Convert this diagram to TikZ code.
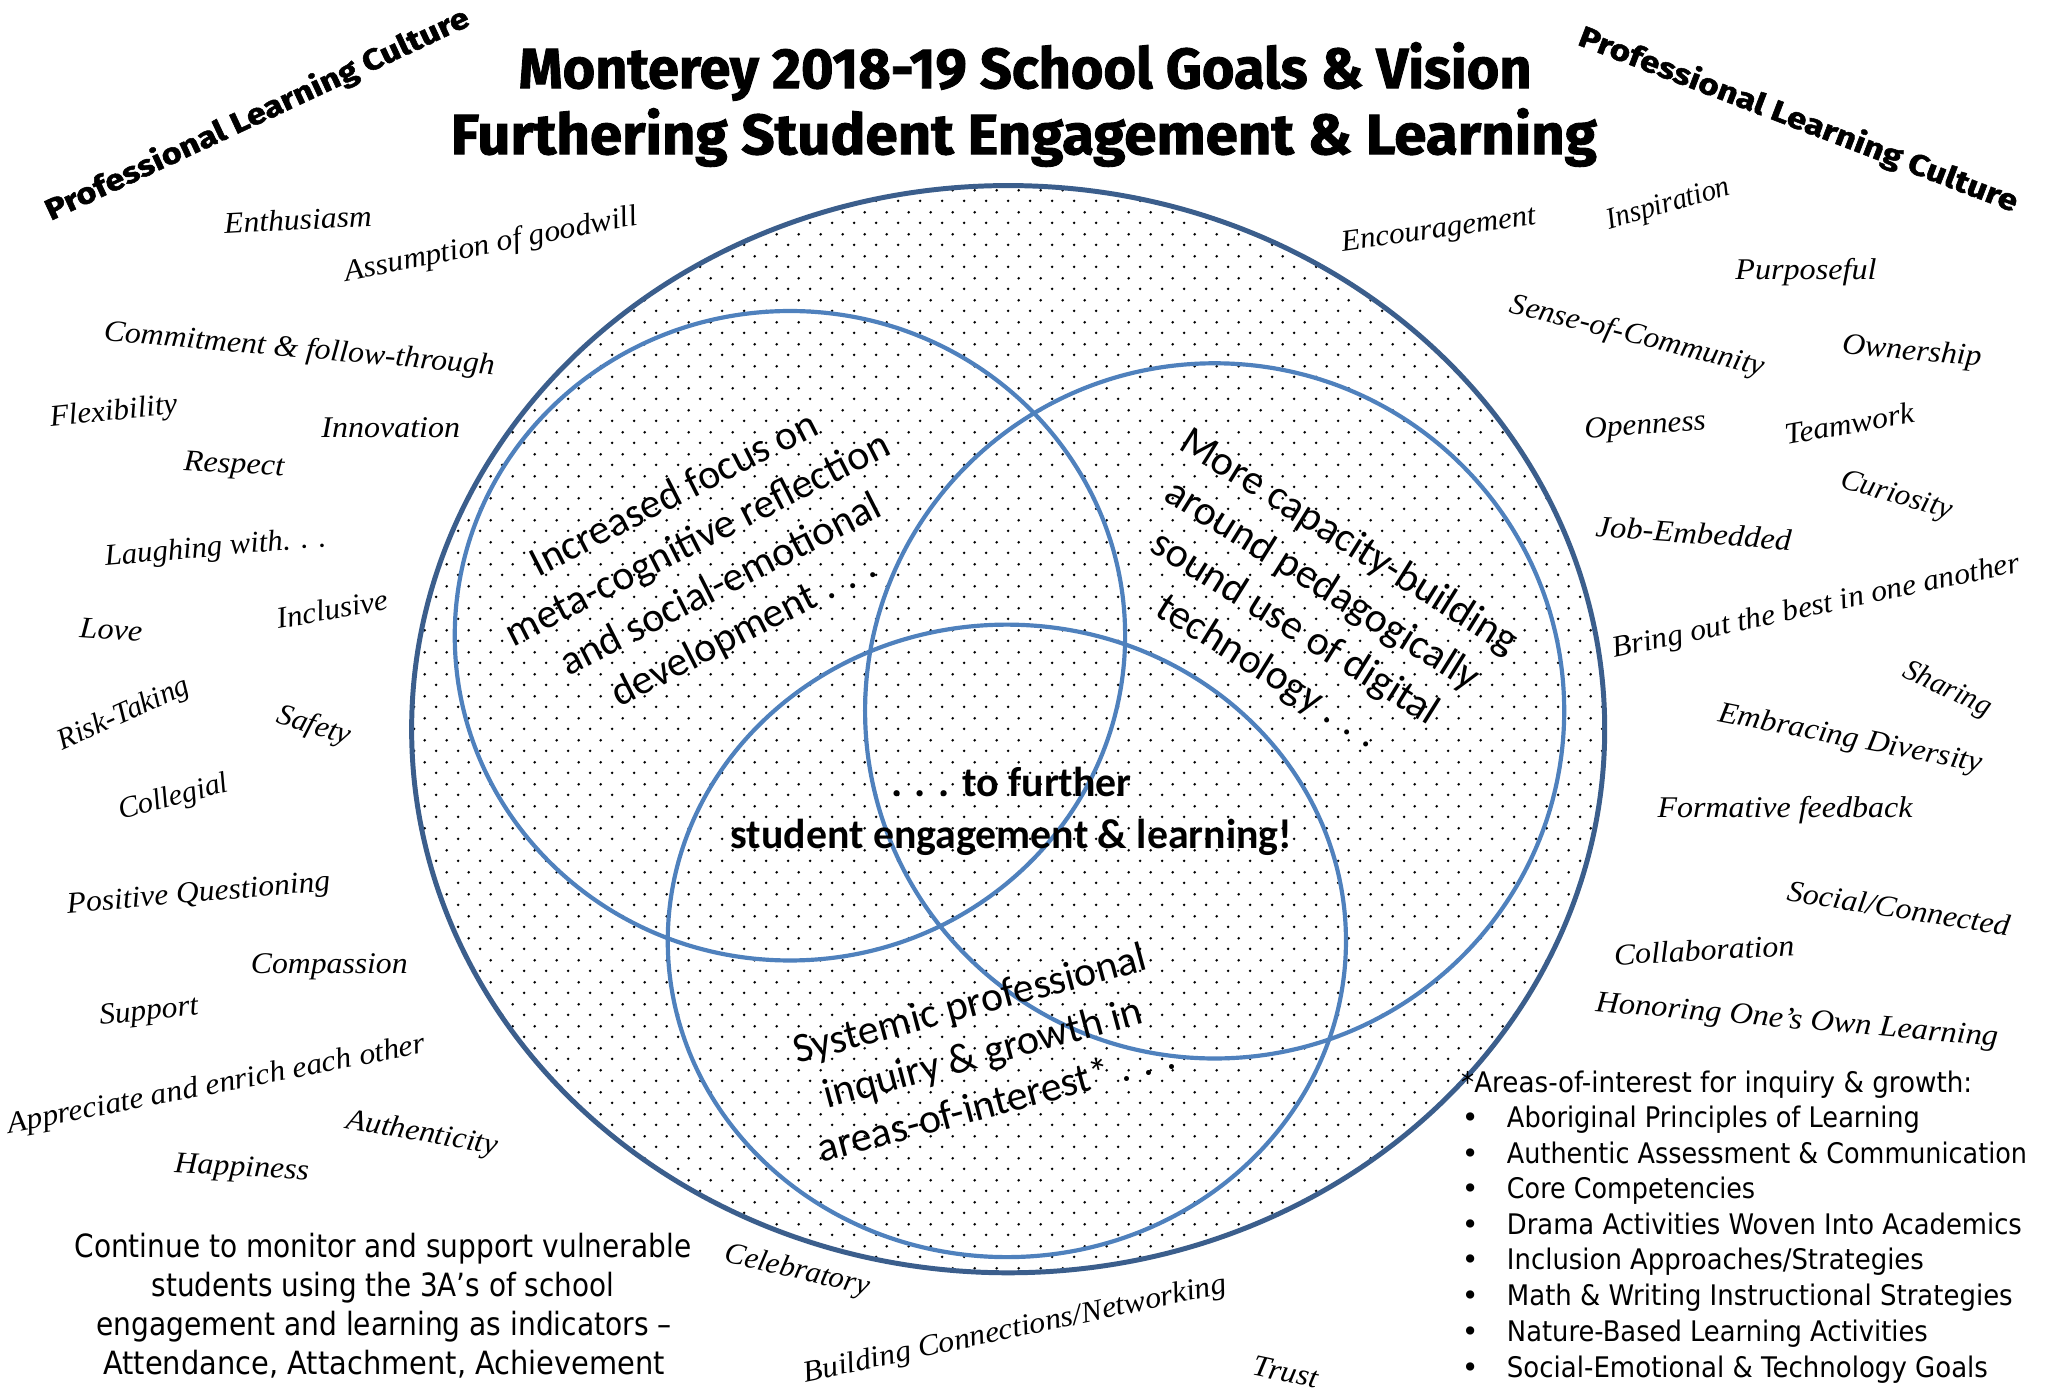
\documentclass[tikz,border=0pt]{standalone}
\usepackage{fontspec}
\usepackage{graphicx}
\usetikzlibrary{patterns.meta}
\setmainfont{Liberation Serif}
\newfontfamily\calib{Carlito}
\newfontfamily\titlefont{Fira Sans}[BoldFeatures={FakeBold=1.6}]
\newfontfamily\tah{DejaVu Sans}
\definecolor{bigblue}{RGB}{59,94,140}
\definecolor{venn}{RGB}{79,129,189}
\pgfdeclarepattern{name=mydots, type=uncolored,
  bottom left={\pgfpointorigin}, top right={\pgfpoint{16.5pt}{16.5pt}},
  tile size={\pgfpoint{16.5pt}{16.5pt}},
  code={\pgfpathcircle{\pgfpoint{4pt}{4pt}}{1.1pt}\pgfpathcircle{\pgfpoint{12.25pt}{12.25pt}}{1.1pt}\pgfusepath{fill}}}
\newcommand\sw[2]{\resizebox{#1pt}{\height}{#2}}
\tikzset{
  word/.style={inner sep=0pt, font=\itshape\fontsize{23}{23}\selectfont},
  plc/.style={inner sep=0pt, font=\titlefont\bfseries\fontsize{22.5}{22.5}\selectfont},
  ttl/.style={inner sep=0pt, anchor=base, font=\titlefont\bfseries\fontsize{43.5}{43.5}\selectfont},
  ctext/.style={inner sep=0pt, align=center, font=\calib\fontsize{32}{39}\selectfont},
  cbold/.style={inner sep=0pt, align=center, font=\calib\bfseries\fontsize{32}{40}\selectfont},
  note/.style={inner sep=0pt, anchor=base, font=\tah\fontsize{24.5}{24.5}\selectfont},
  litem/.style={inner sep=0pt, anchor=base west, font=\tah\fontsize{21.7}{21.7}\selectfont},
  bul/.style={inner sep=0pt, anchor=base, font=\tah\fontsize{21.7}{21.7}\selectfont},
  bigc/.style={draw=bigblue, line width=3.8pt},
  vennc/.style={draw=venn, line width=3.2pt}
}
\begin{document}
\begin{tikzpicture}[x=1pt,y=-1pt]
\fill[white] (0,0) rectangle (1568,1065);
\useasboundingbox (0,0) rectangle (1568,1065);
% dotted big circle
\fill[pattern=mydots, pattern color=black] (771.5,558) ellipse [x radius=456.5pt, y radius=416pt];
\path[vennc] (604.5,486.5) ellipse [x radius=256.5pt, y radius=248.5pt];
\path[vennc] (929.5,544) ellipse [x radius=267.5pt, y radius=266pt];
\path[vennc] (770.5,720) ellipse [x radius=259.5pt, y radius=242pt];
\path[bigc] (771.5,558) ellipse [x radius=456.5pt, y radius=416pt];

% title
\node[ttl] (t1) at (784.5,67.5) {\sw{775}{Monterey 2018-19 School Goals \& Vision}};
\node[ttl] (t2) at (783.5,118) {\sw{877}{Furthering Student Engagement \& Learning}};

% Professional Learning Culture
\node[plc, rotate=25] (plcl) at (197,88) {\sw{355}{Professional Learning Culture}};
\node[plc, rotate=-21] (plcr) at (1376,92) {\sw{358}{Professional Learning Culture}};

% left words
\node[word, rotate=3] (w1) at (228,168) {\sw{113}{Enthusiasm}};
\node[word, rotate=11] (w2) at (376,188) {\sw{228}{Assumption of goodwill}};
\node[word, rotate=-5] (w3) at (229,268) {\sw{300}{Commitment \& follow-through}};
\node[word, rotate=6] (w4) at (87,316) {\sw{98}{Flexibility}};
\node[word] (w5) at (299,327) {\sw{106}{Innovation}};
\node[word, rotate=-3] (w6) at (179,357) {\sw{77}{Respect}};
\node[word, rotate=5] (w7) at (165,420) {\sw{170}{Laughing with. . .}};
\node[word, rotate=-4] (w8) at (85,482) {\sw{48}{Love}};
\node[word, rotate=10] (w9) at (254,466) {\sw{86}{Inclusive}};
\node[word, rotate=24] (w10) at (95,547) {\sw{108}{Risk-Taking}};
\node[word, rotate=-17] (w11) at (240,556) {\sw{58}{Safety}};
\node[word, rotate=15] (w12) at (133,611) {\sw{86}{Collegial}};
\node[word, rotate=5] (w13) at (152,685) {\sw{202}{Positive Questioning}};
\node[word] (w14) at (252,740) {\sw{120}{Compassion}};
\node[word, rotate=6] (w15) at (114,775) {\sw{76}{Support}};
\node[word, rotate=11] (w16) at (166,831) {\sw{325}{Appreciate and enrich each other}};
\node[word, rotate=-10] (w17) at (323,868) {\sw{117}{Authenticity}};
\node[word, rotate=-3] (w18) at (185,895) {\sw{103}{Happiness}};
% bottom words
\node[word, rotate=-13] (w19) at (610,973) {\sw{113}{Celebratory}};
\node[word, rotate=12] (w20) at (777,1018) {\sw{330}{Building Connections/Networking}};
\node[word, rotate=-12] (w21) at (984,1050) {\sw{50}{Trust}};
% right words
\node[word, rotate=8] (w22) at (1101,177) {\sw{150}{Encouragement}};
\node[word, rotate=16] (w23) at (1277,157) {\sw{97}{Inspiration}};
\node[word] (w24) at (1382,208) {\sw{108}{Purposeful}};
\node[word, rotate=-14] (w25) at (1253,258) {\sw{200}{Sense-of-Community}};
\node[word, rotate=-5] (w26) at (1463,270) {\sw{107}{Ownership}};
\node[word, rotate=4] (w27) at (1259,327) {\sw{93}{Openness}};
\node[word, rotate=10] (w28) at (1415,324) {\sw{100}{Teamwork}};
\node[word, rotate=-16] (w29) at (1451,380) {\sw{88}{Curiosity}};
\node[word, rotate=-4] (w30) at (1296,408) {\sw{150}{Job-Embedded}};
\node[word, rotate=12] (w31) at (1390,465) {\sw{318}{Bring out the best in one another}};
\node[word, rotate=-25] (w32) at (1490,528) {\sw{72}{Sharing}};
\node[word, rotate=-11] (w33) at (1416,566) {\sw{205}{Embracing Diversity}};
\node[word] (w34) at (1366,620) {\sw{195}{Formative feedback}};
\node[word, rotate=-9] (w35) at (1453,695) {\sw{172}{Social/Connected}};
\node[word, rotate=3] (w36) at (1304,727) {\sw{138}{Collaboration}};
\node[word, rotate=-5] (w37) at (1375,782) {\sw{309}{Honoring One’s Own Learning}};

% circle texts
\node[ctext, rotate=27] (c1) at (543,431) {Increased focus on\\meta-cognitive reflection\\and social-emotional\\development . . .};
\node[ctext, rotate=-32] (c2) at (1001,465) {More capacity-building\\around pedagogically\\sound use of digital\\technology . . .};
\node[ctext, rotate=15] (c3) at (752,805) {Systemic professional\\inquiry \& growth in\\areas-of-interest* . . .};
\node[cbold] (c4) at (774,621) {. . . to further\\student engagement \& learning!};

% bottom-left note
\node[note] (n1) at (293,962) {\sw{472}{Continue to monitor and support vulnerable}};
\node[note] (n2) at (293,992) {\sw{354}{students using the 3A’s of school}};
\node[note] (n3) at (294,1022) {\sw{440}{engagement and learning as indicators –}};
\node[note] (n4) at (294,1052) {\sw{430}{Attendance, Attachment, Achievement}};

% list
\node[litem] (lh) at (1118,836) {\sw{391}{*Areas-of-interest for inquiry \& growth:}};
\node[bul] (b1) at (1125,862.7) {•};
\node[litem] (l1) at (1153,862.7) {\sw{316}{Aboriginal Principles of Learning}};
\node[bul] (b2) at (1125,890) {•};
\node[litem] (l2) at (1153,890) {\sw{398}{Authentic Assessment \& Communication}};
\node[bul] (b3) at (1125,917.3) {•};
\node[litem] (l3) at (1153,917.3) {\sw{190}{Core Competencies}};
\node[bul] (b4) at (1125,944.5) {•};
\node[litem] (l4) at (1153,944.5) {\sw{394}{Drama Activities Woven Into Academics}};
\node[bul] (b5) at (1125,971.8) {•};
\node[litem] (l5) at (1153,971.8) {\sw{319}{Inclusion Approaches/Strategies}};
\node[bul] (b6) at (1125,999.2) {•};
\node[litem] (l6) at (1153,999.2) {\sw{387}{Math \& Writing Instructional Strategies}};
\node[bul] (b7) at (1125,1026.6) {•};
\node[litem] (l7) at (1153,1026.6) {\sw{322}{Nature-Based Learning Activities}};
\node[bul] (b8) at (1125,1053.8) {•};
\node[litem] (l8) at (1153,1053.8) {\sw{368}{Social-Emotional \& Technology Goals}};
\end{tikzpicture}
\end{document}
